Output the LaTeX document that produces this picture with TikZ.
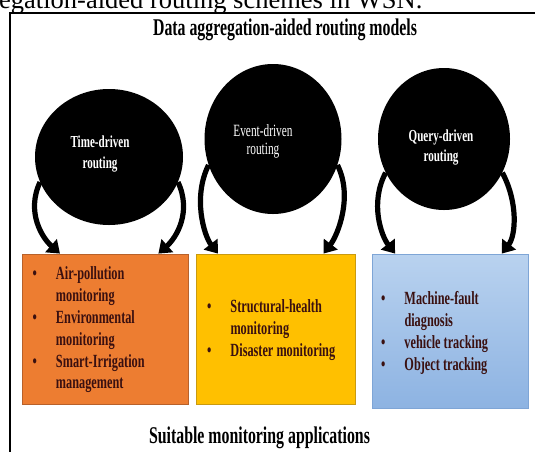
\documentclass[tikz,border=0pt]{standalone}
\usepackage{fontspec}
\setmainfont{Liberation Serif}
\newfontfamily\cond[FakeStretch=0.66]{Liberation Serif}
\usetikzlibrary{shapes.geometric,arrows.meta,calc}

\definecolor{orangefill}{HTML}{ED7D31}
\definecolor{orangeline}{HTML}{B8612A}
\definecolor{yellowfill}{HTML}{FFC000}
\definecolor{yellowline}{HTML}{C99A10}
\definecolor{bluetop}{HTML}{B9D2EF}
\definecolor{bluebottom}{HTML}{8DB3E2}
\definecolor{blueline}{HTML}{7EA5D6}
\definecolor{listink}{HTML}{3A1010}

\begin{document}
\begin{tikzpicture}[x=1pt,y=-1pt,
  hub/.style={ellipse, fill=black, draw=none, inner sep=0pt},
  hublabel/.style={text=white, align=center, inner sep=0pt},
  appbox/.style={rectangle, inner sep=0pt, line width=0.8pt},
  listtext/.style={anchor=west, inner sep=0pt, text=listink,
    font=\cond\bfseries\fontsize{18.6}{21.8}\selectfont},
  heading/.style={anchor=base, inner sep=0pt, text=black,
    font=\cond\bfseries\fontsize{24}{28}\selectfont},
  flow/.style={line width=5.2pt, draw=black,
    -{Triangle[width=17pt,length=12pt]}},
]
\useasboundingbox (0,0) rectangle (535,451);
\clip (0,0) rectangle (535,451);
\fill[white] (0,0) rectangle (535,451);

% caption of the page above the figure
\node[anchor=base west, inner sep=0pt, font=\fontsize{26.5}{30}\selectfont]
  (caption) at (-1,8) {egation-aided routing schemes in WSN.};

% figure frame
\draw[line width=1.3pt] (10,452) -- (10,13) -- (536,13);

% headings
\node[heading] (top) at (285,35) {Data aggregation-aided routing models};
\node[heading] (bottom) at (259.5,443) {Suitable monitoring applications};

% routing models
\node[hub, minimum width=148pt, minimum height=136pt] (time) at (109,157) {};
\node[hub, minimum width=137pt, minimum height=150pt] (event) at (273,139) {};
\node[hub, minimum width=132pt, minimum height=142pt] (query) at (444,139) {};

\node[hublabel, font=\cond\bfseries\fontsize{16.8}{21}\selectfont]
  (timelabel) at (100,154) {Time-driven\\routing};
\node[hublabel, font=\cond\fontsize{17.2}{18}\selectfont]
  (eventlabel) at (263,141) {Event-driven\\routing};
\node[hublabel, font=\cond\bfseries\fontsize{16.8}{20}\selectfont]
  (querylabel) at (441,148) {Query-driven\\routing};

% application boxes
\node[appbox, fill=orangefill, draw=orangeline,
  minimum width=166pt, minimum height=150pt] (obox) at (105,329) {};
\node[appbox, fill=yellowfill, draw=yellowline,
  minimum width=159pt, minimum height=150pt] (ybox) at (275.5,329) {};
\node[appbox, top color=bluetop, bottom color=bluebottom, draw=blueline,
  minimum width=156pt, minimum height=154pt] (bbox) at (450,331) {};

\node[listtext] (olist) at (32.5,330) {%
  \begin{tabular}{@{}l@{\hspace{19pt}}l@{}}
  \textbullet & Air-pollution\\
              & monitoring\\
  \textbullet & Environmental\\
              & monitoring\\
  \textbullet & Smart-Irrigation\\
              & management
  \end{tabular}};
\node[listtext] (ylist) at (207,330) {%
  \begin{tabular}{@{}l@{\hspace{19pt}}l@{}}
  \textbullet & Structural-health\\
              & monitoring\\
  \textbullet & Disaster monitoring
  \end{tabular}};
\node[listtext] (blist) at (381,333) {%
  \begin{tabular}{@{}l@{\hspace{19pt}}l@{}}
  \textbullet & Machine-fault\\
              & diagnosis\\
  \textbullet & vehicle tracking\\
  \textbullet & Object tracking
  \end{tabular}};

% arrow targets on the top edges of the boxes
\coordinate (o1) at ($(obox.north west)!0.23!(obox.north east)$);
\coordinate (o2) at ($(obox.north west)!0.82!(obox.north east)$);
\coordinate (y1) at ($(ybox.north west)!0.14!(ybox.north east)$);
\coordinate (y2) at ($(ybox.north west)!0.80!(ybox.north east)$);
\coordinate (b1) at ($(bbox.north west)!0.15!(bbox.north east)$);
\coordinate (b2) at ($(bbox.north west)!0.83!(bbox.north east)$);

% curved arrows from each model down to its applications
\draw[flow] (time.200)  .. controls +(-14,30) and +(-18,-16) .. (o1);
\draw[flow] (time.340)  .. controls +(14,30)  and +(18,-16)  .. (o2);
\draw[flow] (event.202) .. controls +(-16,32) and +(-14,-18) .. (y1);
\draw[flow] (event.338) .. controls +(16,32)  and +(14,-18)  .. (y2);
\draw[flow] (query.210) .. controls +(-16,30) and +(-14,-18) .. (b1);
\draw[flow] (query.330) .. controls +(16,30)  and +(14,-18)  .. (b2);
\end{tikzpicture}
\end{document}
